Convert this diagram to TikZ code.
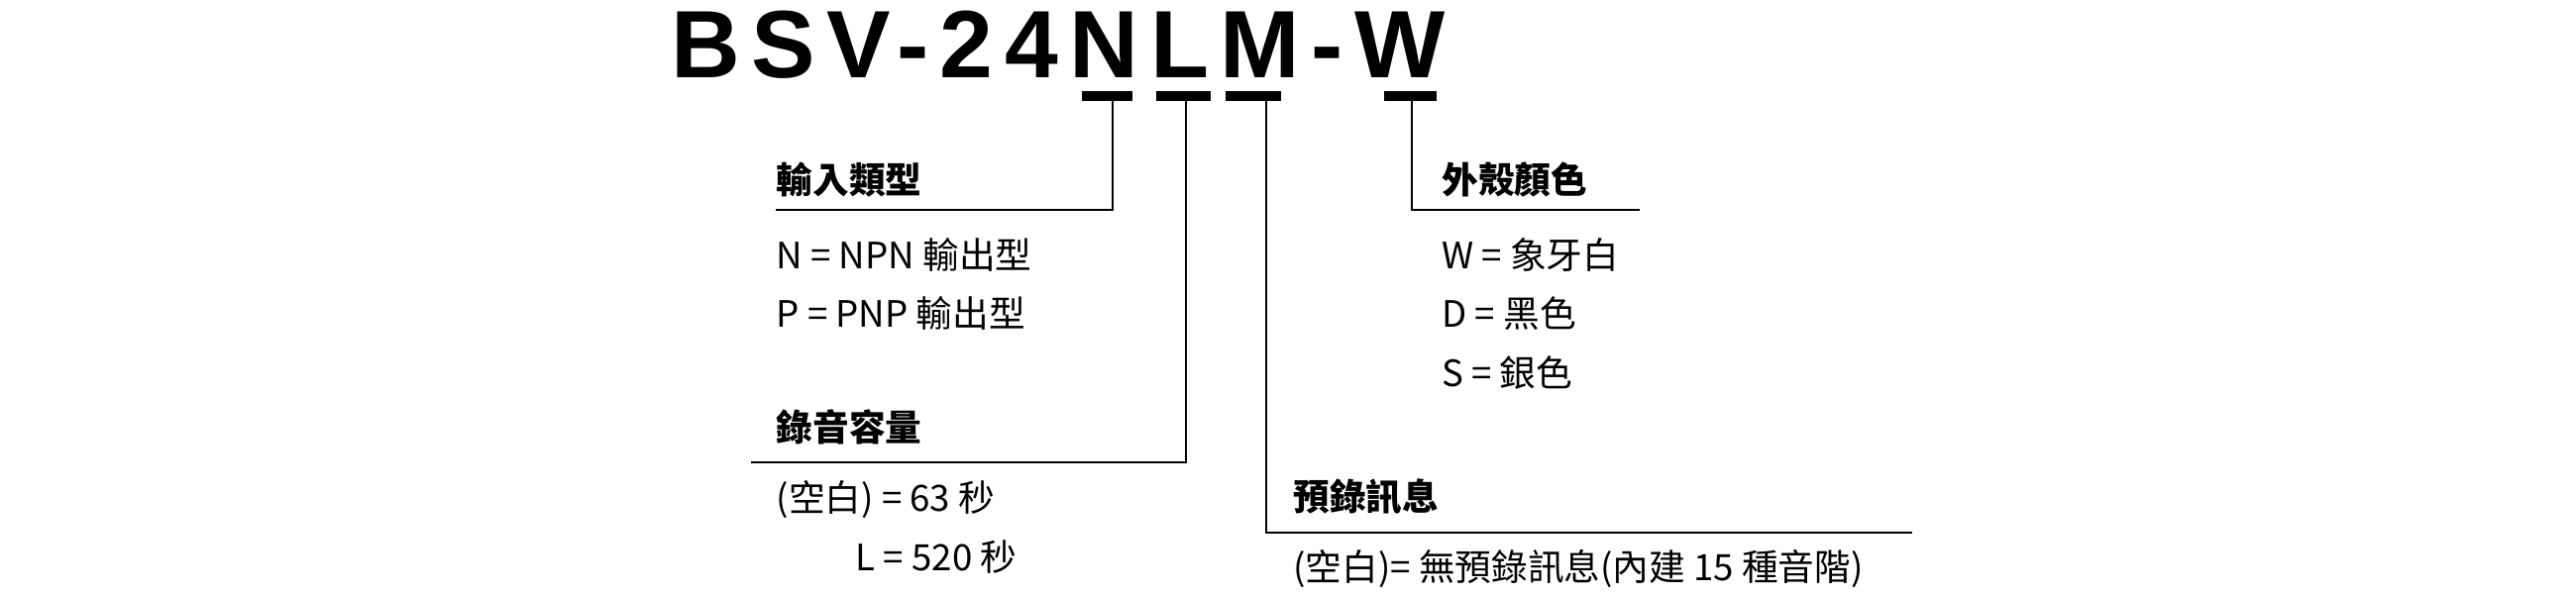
\documentclass[tikz,border=0pt]{standalone}
\usepackage{fontspec}
\setmainfont{Noto Sans CJK TC}
\newfontfamily\titlefont[LetterSpace=12]{Liberation Sans}
\begin{document}
\begin{tikzpicture}[x=1pt,y=-1pt,
  lbl/.style={anchor=base west,inner sep=0pt,font=\fontsize{22}{24}\selectfont},
  hdr/.style={lbl,font=\fontsize{22}{24}\selectfont\bfseries},
  bar/.style={fill=black,draw=none},
  conn/.style={draw=black,line width=1.2pt}]
\useasboundingbox (0,0) rectangle (1560,360);
\node[anchor=base west,inner sep=0pt,font=\fontsize{58}{60}\selectfont\titlefont\bfseries] (title) at (406,47) {BSV-24NLM-W};
\path[bar] (655,55) rectangle (686,61);
\path[bar] (700,55) rectangle (733,61);
\path[bar] (742,55) rectangle (776,61);
\path[bar] (838,55) rectangle (870,61);
\coordinate (n1) at (674,61); \coordinate (n2) at (674,127); \coordinate (n3) at (470,127);
\coordinate (l1) at (718,61); \coordinate (l2) at (718,280); \coordinate (l3) at (455,280);
\coordinate (m1) at (767,61); \coordinate (m2) at (767,323); \coordinate (m3) at (1158,323);
\coordinate (w1) at (855,61); \coordinate (w2) at (855,127); \coordinate (w3) at (993,127);
\draw[conn] (n1) -- (n2) -- (n3);
\draw[conn] (l1) -- (l2) -- (l3);
\draw[conn] (m1) -- (m2) -- (m3);
\draw[conn] (w1) -- (w2) -- (w3);
\node[hdr] (h1) at (470,117) {輸入類型};
\node[lbl] (a1) at (470,163) {N = NPN 輸出型};
\node[lbl] (a2) at (470,198) {P = PNP 輸出型};
\node[hdr] (h2) at (470,267) {錄音容量};
\node[lbl] (b1) at (470,310) {(空白) = 63 秒};
\node[lbl] (b2) at (518,346) {L = 520 秒};
\node[hdr] (h3) at (873,117) {外殼顏色};
\node[lbl] (c1) at (873,163) {W = 象牙白};
\node[lbl] (c2) at (873,198) {D = 黑色};
\node[lbl] (c3) at (873,234) {S = 銀色};
\node[hdr] (h4) at (783,309) {預錄訊息};
\node[lbl] (d1) at (783,352) {(空白)= 無預錄訊息(內建 15 種音階)};
\end{tikzpicture}
\end{document}
